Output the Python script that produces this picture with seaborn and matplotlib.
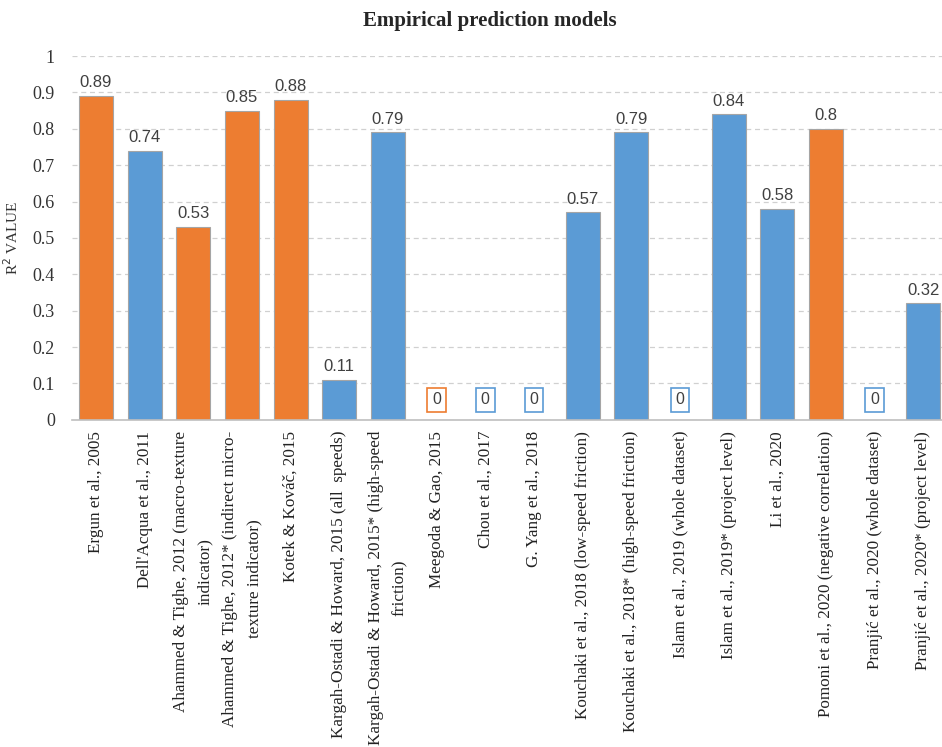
import matplotlib
matplotlib.use("Agg")
import matplotlib.pyplot as plt
import seaborn as sns
import pandas as pd

studies = [
    "Ergun et al., 2005",
    "Dell'Acqua et al., 2011",
    "Ahammed & Tighe, 2012 (macro-texture\nindicator)",
    "Ahammed & Tighe, 2012* (indirect micro-\ntexture indicator)",
    "Kotek & Kováč, 2015",
    "Kargah-Ostadi & Howard, 2015 (all  speeds)",
    "Kargah-Ostadi & Howard, 2015* (high-speed\nfriction)",
    "Meegoda & Gao, 2015",
    "Chou et al., 2017",
    "G. Yang et al., 2018",
    "Kouchaki et al., 2018 (low-speed friction)",
    "Kouchaki et al., 2018* (high-speed friction)",
    "Islam et al., 2019 (whole dataset)",
    "Islam et al., 2019* (project level)",
    "Li et al., 2020",
    "Pomoni et al., 2020 (negative correlation)",
    "Pranjić et al., 2020 (whole dataset)",
    "Pranjić et al., 2020* (project level)",
]
r2_values = [0.89, 0.74, 0.53, 0.85, 0.88, 0.11, 0.79, 0, 0, 0,
             0.57, 0.79, 0, 0.84, 0.58, 0.8, 0, 0.32]
groups = ["orange", "blue", "orange", "orange", "orange", "blue", "blue",
          "orange", "blue", "blue", "blue", "blue", "blue", "blue", "blue",
          "orange", "blue", "blue"]
yticks = [0, 0.1, 0.2, 0.3, 0.4, 0.5, 0.6, 0.7, 0.8, 0.9, 1]
ytick_labels = ["0", "0.1", "0.2", "0.3", "0.4", "0.5", "0.6", "0.7", "0.8", "0.9", "1"]

ORANGE = "#ED7D31"
BLUE = "#5B9BD5"
palette = {"orange": ORANGE, "blue": BLUE}

df = pd.DataFrame({"study": studies, "r2": r2_values, "group": groups})

sns.set_theme(style="white")
plt.rcParams["font.family"] = ["Liberation Serif", "DejaVu Serif"]
SANS = ["Liberation Sans", "DejaVu Sans"]

fig = plt.figure(figsize=(9.42, 7.47), dpi=100)
ax = fig.add_axes([0.076, 0.438, 0.93, 0.487])

sns.barplot(data=df, x="study", y="r2", hue="group", palette=palette,
            saturation=1, dodge=False, width=0.7, edgecolor="#A5A5A5",
            linewidth=0.8, legend=False, ax=ax, order=studies)

ax.set_ylim(0, 1)
ax.set_xlim(-0.5, len(studies) - 0.5)
ax.set_yticks(yticks)
ax.set_yticklabels(ytick_labels, fontsize=13, color="#333333")
ax.tick_params(axis="y", length=0, pad=12)
ax.tick_params(axis="x", length=0, pad=8)
ax.set_xticks(range(len(studies)))
ax.set_xticklabels(studies, rotation=90, ha="center", va="top",
                   multialignment="center", linespacing=1.7,
                   fontsize=12.3, color="#222222")
ax.set_xlabel("")
ax.set_ylabel("R$^2$ VALUE", fontsize=11, color="#333333", labelpad=8)

for y in yticks[1:]:
    ax.axhline(y, color="#D0D0D0", linestyle=(0, (4, 3)), linewidth=0.9, zorder=0)

for side in ["top", "right", "left"]:
    ax.spines[side].set_visible(False)
ax.spines["bottom"].set_color("#BFBFBF")
ax.spines["bottom"].set_linewidth(1.2)

# value labels above each bar; zero values get an outlined box
for idx, val in enumerate(r2_values):
    txt = f"{val:g}"
    if val == 0:
        ax.annotate(txt, (idx, 0), xytext=(0, 9), textcoords="offset points",
                    ha="center", va="bottom", fontsize=11.5, family=SANS,
                    color="#404040",
                    bbox=dict(boxstyle="square,pad=0.3", fc="white",
                              ec=palette[groups[idx]], lw=1.2))
    else:
        ax.annotate(txt, (idx, val), xytext=(0, 4), textcoords="offset points",
                    ha="center", va="bottom", fontsize=12, family=SANS,
                    color="#404040")

fig.suptitle("Empirical prediction models", fontsize=15, fontweight="bold",
             y=0.985, x=0.52)

fig.savefig("out.png", dpi=100, facecolor="white")
